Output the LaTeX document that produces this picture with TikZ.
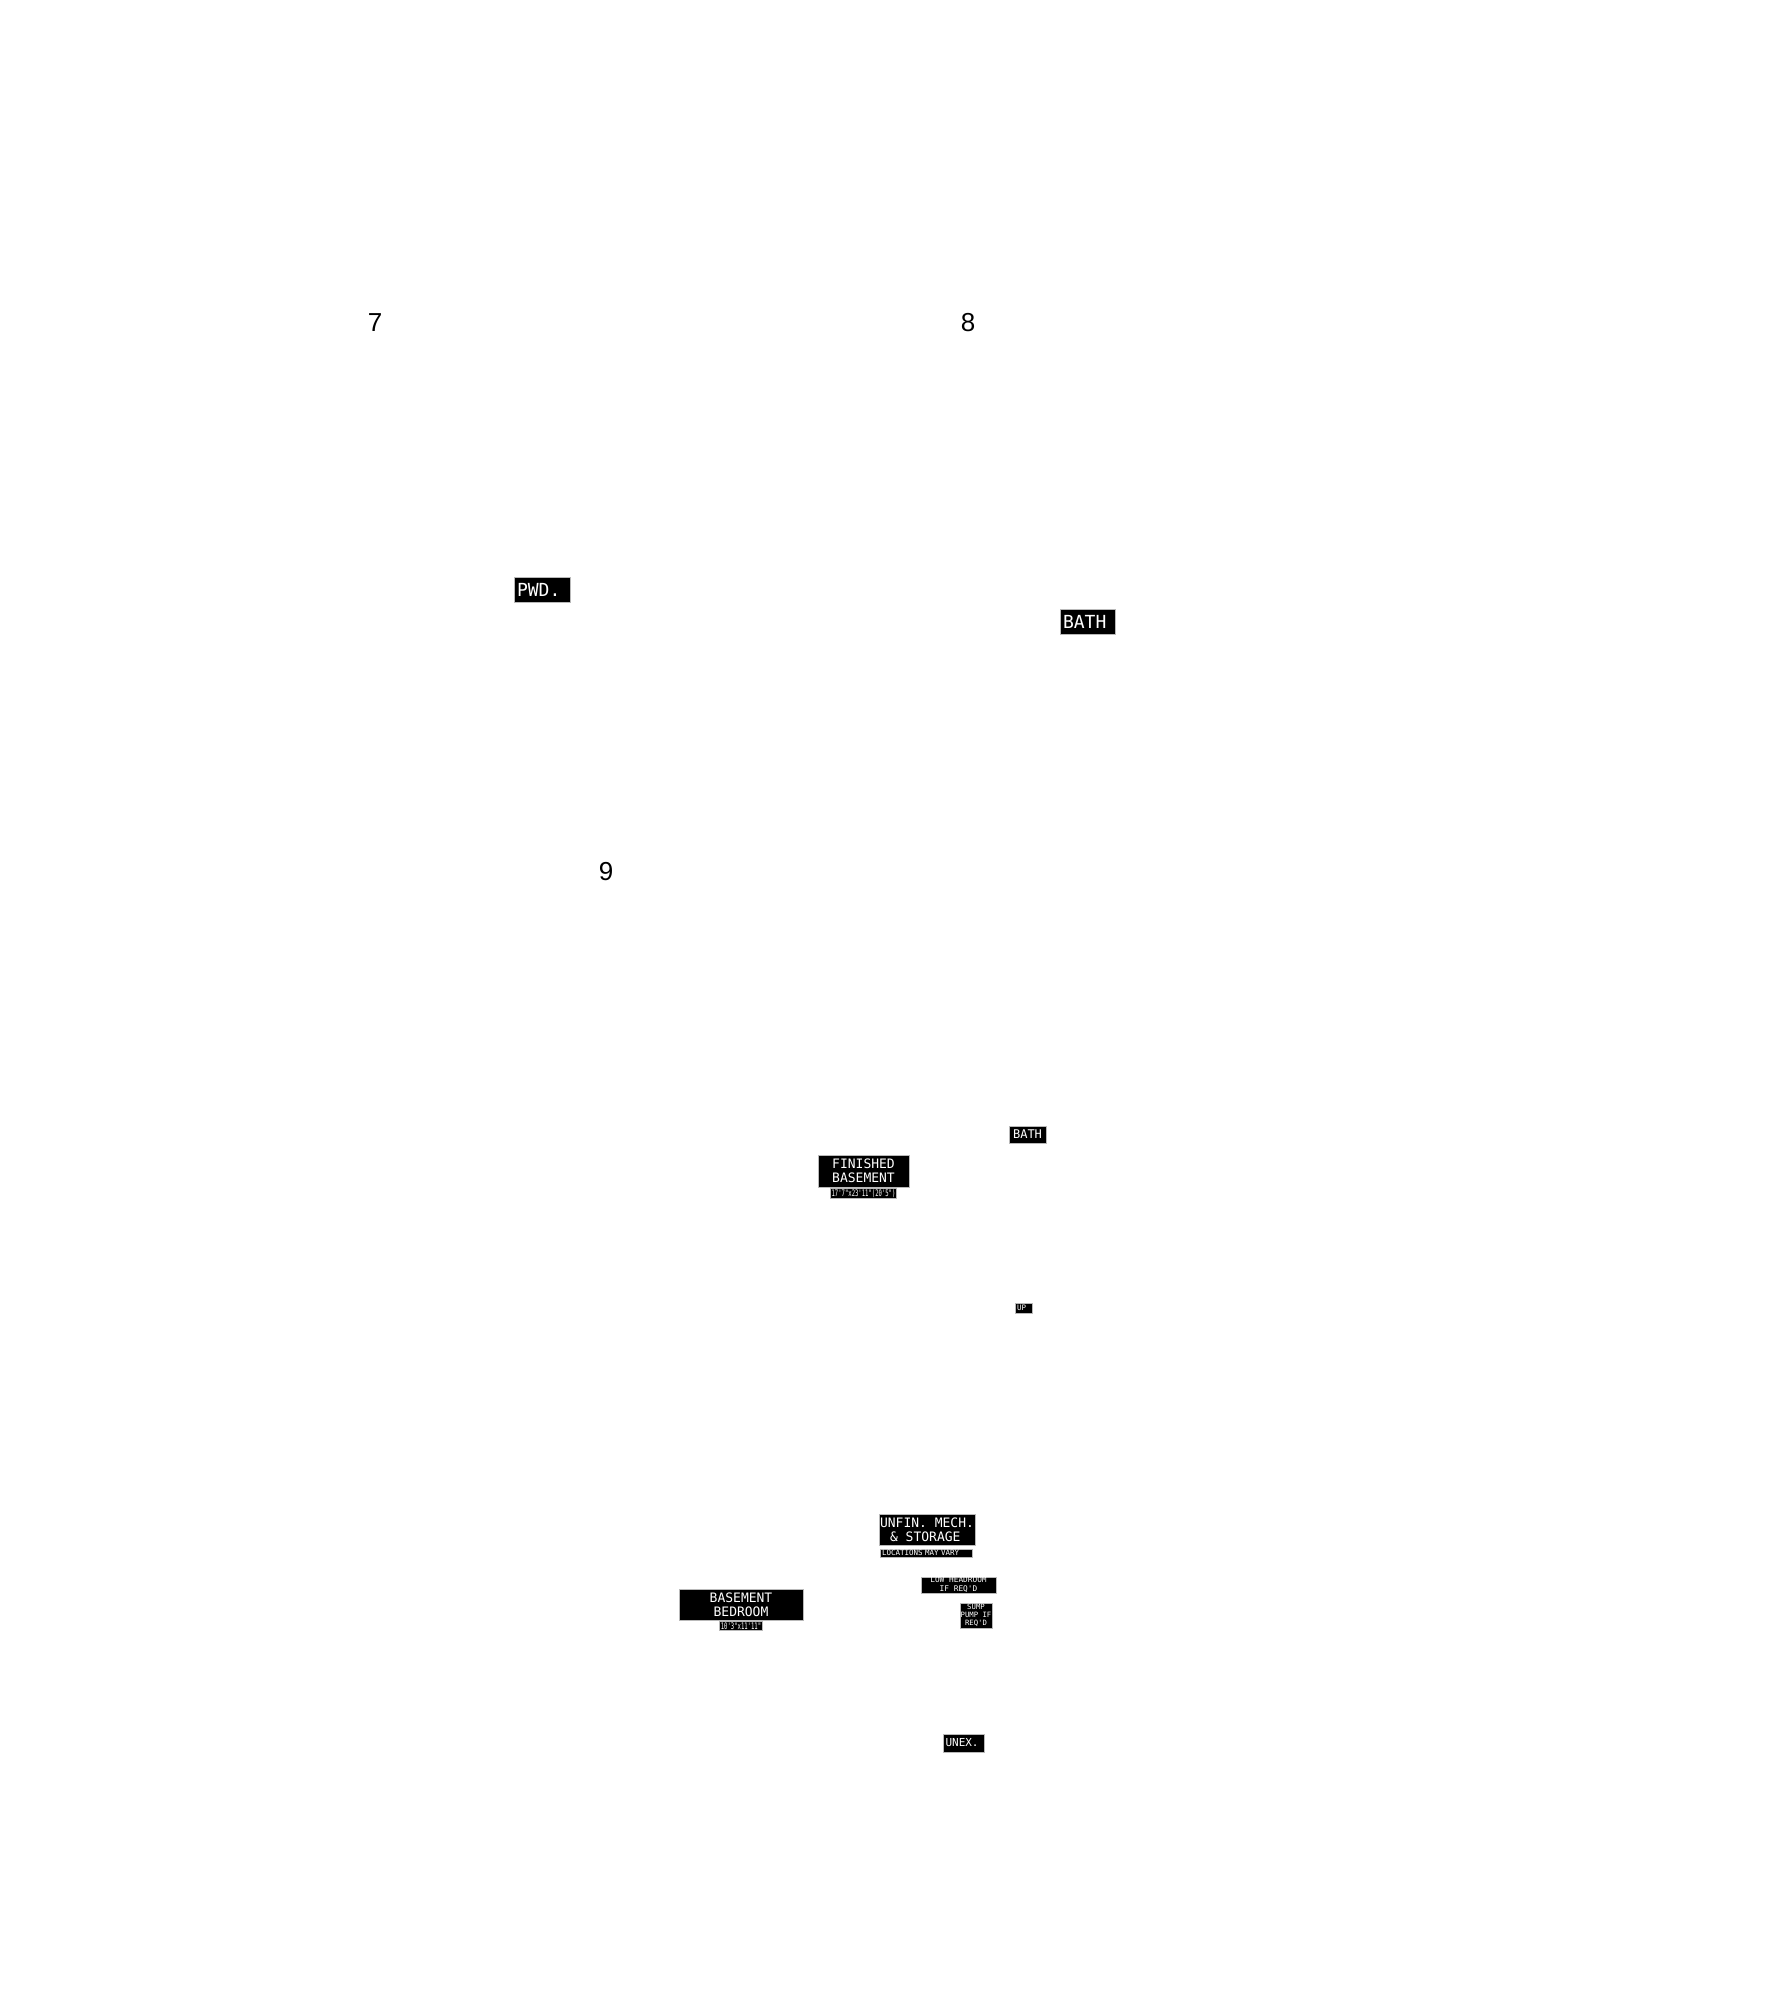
\documentclass[tikz,border=0pt]{standalone}
\usepackage{fontspec}
\setmainfont{Liberation Sans}
\setmonofont{DejaVu Sans Mono}
\newfontfamily\narrowmono[FakeStretch=0.62]{DejaVu Sans Mono}
\usetikzlibrary{positioning}
\newcommand\lblsize[1]{\fontsize{#1}{#1}\selectfont}
\begin{document}
\begin{tikzpicture}[x=1pt,y=-1pt,
    tag/.style={rectangle,fill=black,draw=gray!55,line width=0.8pt,text=white,inner sep=0pt,align=center,font=\ttfamily},
    tagl/.style={tag,align=left,inner xsep=3pt},
    dim/.style={rectangle,fill=black,draw=gray!55,line width=0.5pt,text=white,inner sep=0pt,font=\narrowmono},
    num/.style={inner sep=0pt,font=\lblsize{26}}]
        \useasboundingbox[fill=white] (0,0) rectangle (1791,2000);
        % unit numbers
        \node[num] (u7) at (375,323) {7};
        \node[num] (u8) at (968,323) {8};
        \node[num] (u9) at (606,872) {9};
        % upper floor
        \node[tagl,minimum height=25pt,text width=50pt,font=\ttfamily\lblsize{18}] (pwd) at (542,590) {PWD.};
        \node[tagl,minimum height=25pt,text width=49pt,font=\ttfamily\lblsize{18}] (bath) at (1087.5,621.5) {BATH};
        % basement
        \node[tag,minimum height=17pt,minimum width=37pt,font=\ttfamily\lblsize{12}] (bbath) at (1027.5,1134.5) {BATH};
        \node[tag,minimum height=32pt,minimum width=91pt,font=\ttfamily\fontsize{13}{14}\selectfont] (fin) at (863.5,1171) {FINISHED\\BASEMENT};
        \node[dim,minimum height=10pt,minimum width=66pt,font=\narrowmono\lblsize{9},below=1pt of fin] (findim) {17'7"x23'11"(20'5")};
        \node[tagl,minimum height=10pt,text width=13pt,inner xsep=2pt,font=\ttfamily\lblsize{7.5}] (up) at (1023.5,1308) {UP};
        \node[tag,minimum height=31pt,minimum width=96pt,font=\ttfamily\fontsize{13}{13.5}\selectfont] (mech) at (927,1529.5) {UNFIN. MECH.\\\,\,\& STORAGE\phantom{.}};
        \node[tagl,minimum height=8pt,text width=88pt,inner xsep=2pt,font=\ttfamily\lblsize{7.5}] (loc) at (926,1553) {LOCATIONS MAY VARY};
        \node[tag,minimum height=16pt,minimum width=75pt,font=\ttfamily\fontsize{7.8}{9}\selectfont] (low) at (958.5,1585) {LOW HEADROOM\\IF REQ'D};
        \node[tag,minimum height=25pt,minimum width=32pt,font=\ttfamily\fontsize{7.3}{8.2}\selectfont] (sump) at (976,1615.5) {SUMP\\PUMP IF\\REQ'D};
        \node[tag,minimum height=31pt,minimum width=124pt,font=\ttfamily\fontsize{13}{13.5}\selectfont] (bed) at (741,1604.5) {BASEMENT\\BEDROOM};
        \node[dim,minimum height=9pt,minimum width=43pt,font=\narrowmono\lblsize{9},below=1pt of bed] (beddim) {10'3"x11'11"};
        \node[tagl,minimum height=18pt,text width=36pt,inner xsep=2.5pt,font=\ttfamily\lblsize{11}] (unex) at (963.5,1743) {UNEX.};
    \end{tikzpicture}
\end{document}
